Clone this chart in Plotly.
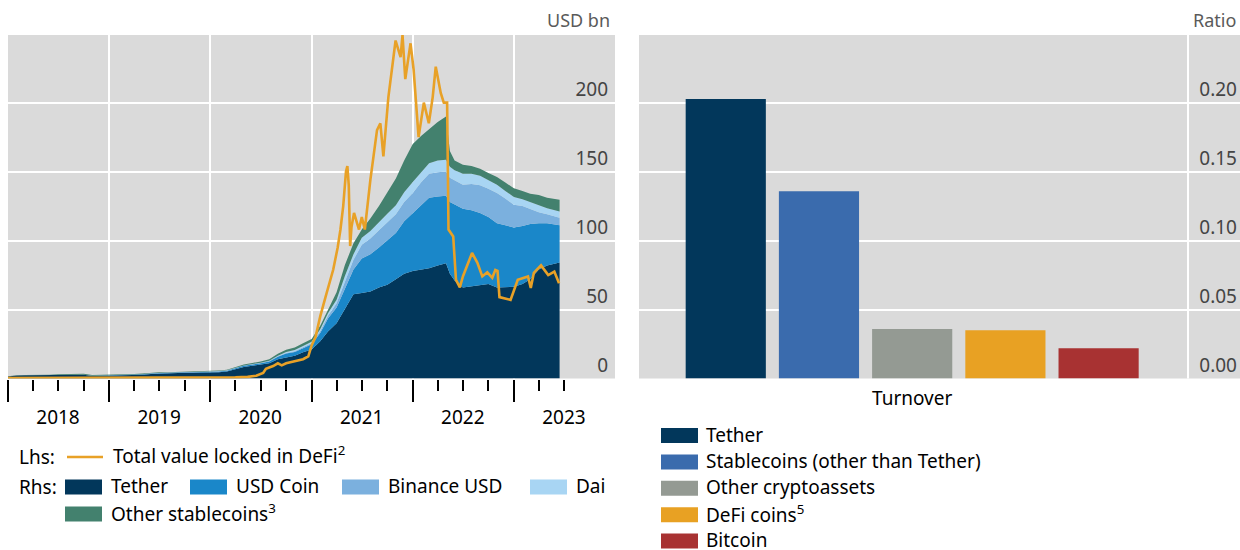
import plotly.graph_objects as go

W, H = 1240, 550

# ---------------- data: left panel (stablecoins, USD bn) ----------------
stack_dates = [
    "2018-01-01", "2018-02-01", "2018-03-01", "2018-04-01", "2018-05-01", "2018-06-01",
    "2018-07-01", "2018-08-01", "2018-09-01", "2018-10-01", "2018-11-01", "2018-12-01",
    "2019-01-01", "2019-02-01", "2019-03-01", "2019-04-01", "2019-05-01", "2019-06-01",
    "2019-07-01", "2019-08-01", "2019-09-01", "2019-10-01", "2019-11-01", "2019-12-01",
    "2020-01-01", "2020-02-01", "2020-03-01", "2020-04-01", "2020-05-01", "2020-06-01",
    "2020-07-01", "2020-08-01", "2020-09-01", "2020-10-01", "2020-11-01", "2020-12-01",
    "2021-01-01", "2021-02-01", "2021-03-01", "2021-04-01", "2021-05-01", "2021-06-01",
    "2021-07-01", "2021-08-01", "2021-09-01", "2021-10-01", "2021-11-01", "2021-12-01",
    "2022-01-01", "2022-02-01", "2022-03-01", "2022-04-01", "2022-05-01", "2022-05-15",
    "2022-06-01", "2022-07-01", "2022-08-01", "2022-09-01", "2022-10-01", "2022-11-01",
    "2022-12-01",
    "2023-01-01", "2023-02-01", "2023-03-01", "2023-04-01", "2023-05-01", "2023-06-15",
]
tether = [
    1.4, 2.2, 2.3, 2.3, 2.4, 2.5, 2.7, 2.8, 2.8, 2.7, 1.8, 1.9,
    2.0, 2.0, 2.1, 2.5, 2.8, 3.3, 3.6, 3.7, 3.8, 4.1, 4.1, 4.1,
    4.3, 4.6, 5.0, 6.9, 8.3, 9.2, 9.9, 11.0, 14.0, 15.5, 16.5, 19.0,
    21.0, 27.0, 34.0, 40.0, 50.0, 61.0, 62.0, 63.0, 66.0, 68.0, 72.0, 76.0,
    78.0, 79.0, 80.0, 82.0, 83.5, 76.0, 71.0, 66.0, 67.0, 68.0, 68.5, 66.0, 66.0,
    66.5, 68.5, 72.0, 79.0, 82.0, 84.0,
]
usd_coin = [
    0, 0, 0, 0, 0, 0, 0, 0, 0, 0.1, 0.2, 0.3,
    0.3, 0.3, 0.3, 0.3, 0.3, 0.4, 0.4, 0.4, 0.4, 0.45, 0.45, 0.5,
    0.5, 0.5, 0.6, 0.8, 0.9, 1.0, 1.1, 1.4, 1.8, 2.6, 2.8, 3.0,
    3.8, 6.0, 9.5, 11.5, 15.0, 18.0, 25.0, 27.0, 29.0, 32.0, 33.5, 38.0,
    42.0, 47.0, 51.0, 50.0, 49.0, 52.0, 55.0, 57.0, 55.0, 52.0, 48.5, 46.5, 45.0,
    43.0, 42.0, 40.0, 33.5, 30.5, 27.0,
]
binance_usd = [
    0, 0, 0, 0, 0, 0, 0, 0, 0, 0, 0, 0,
    0, 0, 0, 0, 0.05, 0.1, 0.1, 0.1, 0.15, 0.15, 0.15, 0.15,
    0.15, 0.15, 0.2, 0.2, 0.2, 0.2, 0.2, 0.2, 0.3, 0.4, 0.5, 0.6,
    0.8, 1.3, 2.0, 3.0, 5.5, 7.0, 10.0, 11.5, 12.5, 13.0, 13.5, 14.0,
    14.5, 16.5, 17.5, 17.5, 17.5, 17.5, 17.5, 17.5, 19.0, 20.0, 20.5, 22.0, 19.5,
    16.5, 14.5, 11.0, 8.0, 6.5, 5.5,
]
dai = [
    0, 0, 0, 0, 0, 0, 0, 0, 0, 0, 0, 0,
    0, 0, 0, 0, 0, 0, 0, 0, 0, 0, 0.05, 0.05,
    0.05, 0.1, 0.1, 0.1, 0.1, 0.1, 0.15, 0.2, 0.4, 0.8, 0.9, 1.0,
    1.0, 1.4, 1.8, 2.6, 3.8, 4.0, 5.0, 5.5, 6.0, 6.5, 6.5, 7.0,
    8.0, 7.5, 7.5, 8.5, 8.5, 8.0, 7.5, 8.0, 7.5, 7.0, 6.5, 6.0, 5.5,
    5.5, 5.0, 5.0, 5.0, 4.5, 4.5,
]
other_stablecoins = [
    0.2, 0.2, 0.2, 0.2, 0.3, 0.3, 0.4, 0.5, 0.6, 0.6, 0.5, 0.4,
    0.4, 0.4, 0.4, 0.4, 0.4, 0.4, 0.4, 0.4, 0.4, 0.5, 0.5, 0.5,
    0.5, 0.5, 0.5, 0.6, 0.7, 0.8, 0.9, 1.2, 1.4, 1.6, 1.7, 1.9,
    2.0, 2.5, 2.8, 5.5, 8.0, 8.0, 6.0, 9.0, 11.5, 15.5, 19.5, 23.0,
    27.5, 26.0, 25.0, 28.0, 31.5, 11.5, 7.0, 6.5, 5.5, 5.0, 5.0, 5.5, 6.0,
    6.5, 6.0, 6.0, 7.5, 7.5, 8.5,
]

# total value locked in DeFi (lhs)
tvl_dates = [
    "2018-01-01", "2018-07-01", "2019-01-01", "2019-07-01", "2020-01-01", "2020-04-01",
    "2020-05-15", "2020-06-15", "2020-07-10", "2020-07-20", "2020-08-01", "2020-08-15",
    "2020-09-01", "2020-09-15", "2020-10-01", "2020-11-01", "2020-12-01", "2020-12-20",
    "2021-01-01", "2021-01-15", "2021-02-01", "2021-02-20", "2021-03-10", "2021-03-20",
    "2021-04-05", "2021-04-15", "2021-04-25", "2021-05-05", "2021-05-10", "2021-05-15",
    "2021-05-20", "2021-05-25", "2021-06-03", "2021-06-21", "2021-07-01", "2021-07-12",
    "2021-08-01", "2021-08-25", "2021-09-06", "2021-09-17", "2021-10-05", "2021-10-31",
    "2021-11-18", "2021-11-25", "2021-12-05", "2021-12-24", "2022-01-04", "2022-01-22",
    "2022-02-10", "2022-02-28", "2022-03-14", "2022-03-25", "2022-04-12", "2022-04-23",
    "2022-05-05", "2022-05-10", "2022-05-27", "2022-06-06", "2022-06-20", "2022-07-01",
    "2022-08-03", "2022-08-22", "2022-09-09", "2022-09-27", "2022-10-15", "2022-10-26",
    "2022-11-03", "2022-11-10", "2022-12-20", "2023-01-15", "2023-02-21", "2023-03-03",
    "2023-03-14", "2023-04-09", "2023-05-05", "2023-05-27", "2023-06-13",
]
tvl_values = [
    0.3, 0.3, 0.3, 0.5, 0.6, 0.8,
    1.2, 2.0, 4.0, 7.0, 8.0, 9.0,
    11.0, 9.5, 11.0, 12.5, 14.0, 16.0,
    24.0, 30.0, 45.0, 59.0, 72.0, 79.0,
    95.0, 108.0, 125.0, 150.0, 154.0, 140.0,
    96.0, 110.0, 120.0, 108.0, 117.0, 108.0,
    144.0, 180.0, 185.0, 161.0, 204.0, 245.0,
    233.0, 249.0, 217.0, 243.0, 224.0, 175.0,
    200.0, 185.0, 204.0, 226.0, 207.0, 200.0,
    200.0, 108.0, 103.0, 71.5, 66.0, 74.0,
    91.0, 84.0, 74.0, 77.0, 73.0, 78.7,
    78.0, 59.0, 57.0, 71.5, 74.0, 65.6,
    76.5, 82.0, 75.0, 77.5, 69.0,
]

years = [2018, 2019, 2020, 2021, 2022, 2023]
left_ticks = [0, 50, 100, 150, 200]

# ---------------- data: right panel (turnover ratio) ----------------
bar_category = ["Turnover"]
bar_names = ["Tether", "Stablecoins (other than Tether)", "Other cryptoassets",
             "DeFi coins<sup>5</sup>", "Bitcoin"]
bar_values = [0.203, 0.136, 0.036, 0.035, 0.022]
right_ticks = [0.00, 0.05, 0.10, 0.15, 0.20]

# ---------------- styles ----------------
stack_names = ["Tether", "USD Coin", "Binance USD", "Dai", "Other stablecoins<sup>3</sup>"]
stack_series = [tether, usd_coin, binance_usd, dai, other_stablecoins]
stack_colors = ["#02375B", "#1A87C9", "#7BB0DE", "#A8D5F3", "#43816E"]
tvl_name = "Total value locked in DeFi<sup>2</sup>"
tvl_color = "#E8A127"
bar_colors = ["#02375B", "#3A6BAD", "#949A93", "#E8A123", "#A83232"]
BG = "#DADADA"
FONT = "Noto Sans"


def px(xp):
    return xp / W


def py(yp):
    return 1 - yp / H


fig = go.Figure()

for name, vals, col in zip(stack_names, stack_series, stack_colors):
    fig.add_trace(go.Scatter(
        x=stack_dates, y=vals, name=name, stackgroup="rhs", mode="lines",
        line=dict(width=0, color=col), fillcolor=col,
        xaxis="x", yaxis="y", showlegend=False, hoverinfo="skip"))

fig.add_trace(go.Scatter(
    x=tvl_dates, y=tvl_values, name=tvl_name, mode="lines",
    line=dict(color=tvl_color, width=2.6),
    xaxis="x", yaxis="y3", showlegend=False))

for name, val, col in zip(bar_names, bar_values, bar_colors):
    fig.add_trace(go.Bar(
        x=bar_category, y=[val], name=name, marker=dict(color=col, line=dict(width=0)),
        xaxis="x2", yaxis="y2", showlegend=False))

year_starts = [f"{y}-01-01" for y in years]
quarter_ticks = [f"{y}-{m:02d}-01" for y in years for m in (4, 7, 10)]
quarter_ticks = [q for q in quarter_ticks if q <= "2023-07-01"]

top_px, bot_px = 35, 378.5

fig.update_layout(
    width=W, height=H,
    margin=dict(l=0, r=0, t=0, b=0),
    paper_bgcolor="white", plot_bgcolor=BG,
    font=dict(family=FONT, size=19, color="black"),
    barmode="group", bargap=0.147, bargroupgap=0.14,
    xaxis=dict(
        domain=[px(8), px(615)], anchor="y", type="date",
        range=["2018-01-01", "2024-01-01"],
        tickmode="array", tickvals=year_starts, ticktext=[str(y) for y in years],
        ticks="outside", ticklen=22, tickwidth=1.5, tickcolor="black",
        ticklabelshift=50, ticklabelstandoff=0,
        showgrid=True, gridcolor="white", gridwidth=2,
        zeroline=False, showline=False,
        minor=dict(tickmode="array", tickvals=quarter_ticks, ticks="outside",
                   ticklen=11, tickwidth=1.5, tickcolor="black", showgrid=False),
    ),
    yaxis=dict(
        domain=[py(bot_px), py(top_px)], anchor="x", side="right",
        range=[0, 249], tickmode="array", tickvals=left_ticks,
        ticklabelposition="inside top", ticks="", ticklabelstandoff=4,
        showgrid=True, gridcolor="white", gridwidth=2, zeroline=False, showline=False,
    ),
    yaxis3=dict(overlaying="y", range=[0, 249], visible=False, showgrid=False),
    xaxis2=dict(
        domain=[px(639), 1.0], anchor="y2", type="category", range=[-0.5, 0.6],
        ticks="", showgrid=False, zeroline=False, showline=False,
        ticklabelstandoff=6,
    ),
    yaxis2=dict(
        domain=[py(bot_px), py(top_px)], anchor="x2", side="right",
        range=[0, 0.2494], tickmode="array", tickvals=right_ticks, tickformat=".2f",
        ticklabelposition="inside top", ticks="",
        showgrid=True, gridcolor="white", gridwidth=2, zeroline=False, showline=False,
    ),
)

shapes = []
annotations = []

# vertical separator in right panel
shapes.append(dict(type="line", xref="paper", yref="y2 domain",
                   x0=px(1188), x1=px(1188), y0=0, y1=1,
                   line=dict(color="white", width=2), layer="below"))

# unit labels
annotations.append(dict(text="USD bn", x=px(612), y=py(20), xref="paper", yref="paper",
                        xanchor="right", yanchor="middle", showarrow=False,
                        font=dict(size=18, color="#5A5A5A")))
annotations.append(dict(text="Ratio", x=px(1238), y=py(20), xref="paper", yref="paper",
                        xanchor="right", yanchor="middle", showarrow=False,
                        font=dict(size=18, color="#5A5A5A")))


def label(text, x, y):
    annotations.append(dict(text=text, x=px(x), y=py(y), xref="paper", yref="paper",
                            xanchor="left", yanchor="middle", showarrow=False,
                            font=dict(size=19, color="black")))


def swatch(x, y, col, w=37, h=15):
    shapes.append(dict(type="rect", xref="paper", yref="paper",
                       x0=px(x), x1=px(x + w), y0=py(y + h / 2), y1=py(y - h / 2),
                       fillcolor=col, line=dict(width=0)))


# left legend
label("Lhs:", 17, 457)
shapes.append(dict(type="line", xref="paper", yref="paper",
                   x0=px(67), x1=px(103), y0=py(457), y1=py(457),
                   line=dict(color=tvl_color, width=2.6)))
label(tvl_name, 111, 455)
label("Rhs:", 17, 487)
rhs_slots = [(65, 487), (190, 487), (342, 487), (530, 487), (65, 514)]
for (sx, sy), name, col in zip(rhs_slots, stack_names, stack_colors):
    swatch(sx, sy, col)
    label(name, sx + 44, sy - 1)

# right legend
for i, (name, col) in enumerate(zip(bar_names, bar_colors)):
    yy = 435.5 + i * 26.4
    swatch(661, yy, col)
    label(name, 704, yy - 1)

fig.update_layout(shapes=shapes, annotations=annotations)

fig.write_html(
    "out.html",
    config={"displayModeBar": False},
    post_script="document.body.style.margin='0';document.body.style.padding='0';",
)
